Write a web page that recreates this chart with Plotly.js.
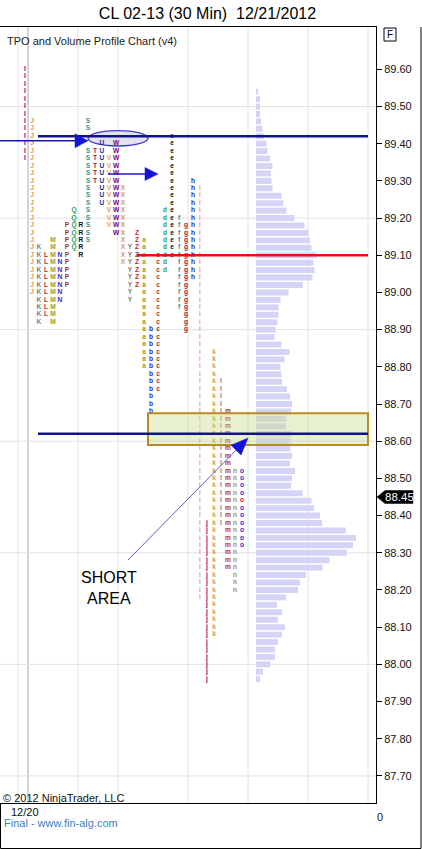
<!DOCTYPE html>
<html><head><meta charset="utf-8">
<script src="https://cdn.plot.ly/plotly-3.0.1.min.js"></script>
<style>html,body{margin:0;padding:0;background:#fff;}#chart{width:422px;height:849px;}</style>
</head><body><div id="chart"></div><script>
// ---------- DATA ----------
// TPO periods (30 min letters) and the price range of each period
const tpoLetters = ['I','J','K','L','M','N','P','Q','R','S','T','U','V','W','X','Y','Z','a','b','c','d','e','f','g','h','i','j','k','l','m','n','o'];
const tpoLow  = [89.36,89.00,88.92,88.94,88.92,88.98,89.02,89.12,89.10,89.14,89.30,89.24,89.18,89.16,89.08,88.98,89.02,88.80,88.68,88.74,89.06,89.10,88.96,88.90,89.04,88.18,87.96,88.08,88.38,88.26,88.20,88.32];
const tpoHigh = [89.60,89.46,89.12,89.10,89.14,89.10,89.18,89.22,89.18,89.46,89.38,89.40,89.36,89.40,89.28,89.12,89.16,89.14,88.90,89.10,89.22,89.42,89.20,89.18,89.30,89.28,88.38,88.84,88.76,88.68,88.52,88.52];
// rows not printed (hidden behind the ellipse)
const gapLetter = ['S'];
const gapLow  = [89.40];
const gapHigh = [89.42];
const tpoTick = 0.02;
// close print
const closeLetter = 'o';
const closeRow = 88.44;
const closePrice = 88.45;

// Volume profile (top price level, then one value per 0.02 level going down)
const volTopPrice = 89.54;
const volValues = [2,4,4,4,5,6.5,7.5,10.5,11.5,14,16.5,15,15.5,16.5,25.5,27.5,30.5,38.5,48.5,52.5,54,55.5,60.5,57.5,58.5,56.5,46.5,32.5,24.5,22.5,22.5,21.5,19.5,18.5,25.5,33.5,28.5,24.5,25.5,
  26,31,34,36,35,30.5,30,35,34.5,34.5,36,34,39,36,35,46.5,55.5,58,64,66,90,100,97,91,73.5,66.5,50,44,42,30,21,26,22,29,26,22,19,19,14,7,4];

// Price axis tick labels
const priceTicks = ['89.60','89.50','89.40','89.30','89.20','89.10','89.00','88.90','88.80','88.70','88.60','88.50','88.40','88.30','88.20','88.10','88.00','87.90','87.80','87.70'];
const gridPrices = [89.50,89.20,88.90,88.60,88.30,88.00,87.70];

// Drawn levels
const blueLevels = [89.42, 88.62];
const redLevel = 89.10;
const boxLow = 88.59, boxHigh = 88.675;

// ---------- LAYOUT HELPERS ----------
const W=422, H=849, PL=0, PR=376, PT=27, PB=803;
const refPrice=89.60, refPx=69.3, pxPerPoint=371.9;
const pxToPrice = y => refPrice - (y - refPx)/pxPerPoint;
const priceToPx = p => refPx + (refPrice - p)*pxPerPoint;
const xp = x => (x - PL)/(PR - PL);
const yp = y => (PB - y)/(PB - PT);
const colX0 = 25, colStep = 7, volBase = 256;
const palette = ['#800080','#CF9A5A','#7C7C7C','#C62626','#A09A22','#2A2ACB','#A8302A','#2E9E4E','#111111','#2A9494','#A0183E','#1E2A8A','#F0A030'];

// ---------- TPO TEXT ----------
const tx=[], ty=[], tt=[], tc=[];
tpoLetters.forEach((L, i) => {
  const n = Math.round((tpoHigh[i]-tpoLow[i])/tpoTick);
  for (let k=0; k<=n; k++) {
    const p = +(tpoLow[i] + k*tpoTick).toFixed(2);
    let hidden = false;
    gapLetter.forEach((g, j) => { if (g===L && p>=gapLow[j]-1e-9 && p<=gapHigh[j]+1e-9) hidden = true; });
    if (hidden) continue;
    tx.push(colX0 + colStep*i); ty.push(p); tt.push(L);
    tc.push((L===closeLetter && Math.abs(p-closeRow)<1e-9) ? '#E0103A' : palette[i % palette.length]);
  }
});
const volPrices = volValues.map((v, k) => +(volTopPrice - k*tpoTick).toFixed(2));

const traces = [
  {type:'bar', orientation:'h', y:volPrices, x:volValues, base:volBase, width:0.016,
   marker:{color:'#D4D4F7', line:{width:0}}, hoverinfo:'skip', showlegend:false},
  {type:'scatter', mode:'text', x:tx, y:ty, text:tt, textposition:'middle center',
   textfont:{family:'Liberation Sans, Arial, sans-serif', size:6.6, weight:'bold', color:tc},
   hoverinfo:'skip', showlegend:false, cliponaxis:false}
];

// ---------- SHAPES ----------
const shapes = [];
gridPrices.forEach(p => shapes.push({type:'line', xref:'x', yref:'y', x0:PL, x1:PR, y0:p, y1:p, line:{color:'#E2E2E2', width:1}, layer:'below'}));
[18, 78, 118, 188, 248, 308, 368].forEach(x => shapes.push({type:'line', xref:'x', yref:'paper', x0:x, x1:x, y0:0, y1:1, line:{color:'#E2E2E2', width:1}, layer:'below'}));
shapes.push({type:'line', xref:'x', yref:'paper', x0:28, x1:28, y0:0, y1:1, line:{color:'#A8A8A8', width:1}, layer:'below'});
// ellipse
shapes.push({type:'circle', xref:'x', yref:'y', x0:88, x1:148, y0:pxToPrice(146), y1:pxToPrice(130.6),
  fillcolor:'#E3E3EE', line:{color:'#3A3AC8', width:1.3}, layer:'below'});
// box
shapes.push({type:'rect', xref:'x', yref:'y', x0:148, x1:368, y0:boxLow, y1:boxHigh,
  fillcolor:'rgba(200,222,140,0.42)', line:{color:'#B88A2A', width:2}, layer:'above'});
// blue & red levels
blueLevels.forEach(p => shapes.push({type:'line', xref:'x', yref:'y', x0:38, x1:368, y0:p, y1:p, line:{color:'#12128E', width:2.5}}));
shapes.push({type:'line', xref:'x', yref:'y', x0:137, x1:368, y0:redLevel, y1:redLevel, line:{color:'#E81010', width:2.5}});

function arrow(x0, y0, x1, y1, lineEnd, len, hw, lineColor, lineW, headColor) {
  const dx=x1-x0, dy=y1-y0, d=Math.hypot(dx,dy), ux=dx/d, uy=dy/d;
  const bx=x1-ux*len, by=y1-uy*len, nx=-uy, ny=ux;
  const ex = x0 + ux*(d-lineEnd), ey = y0 + uy*(d-lineEnd);
  shapes.push({type:'line', xref:'paper', yref:'paper', x0:xp(x0), y0:yp(y0), x1:xp(ex), y1:yp(ey), line:{color:lineColor, width:lineW}});
  const pts = [[x1,y1],[bx+nx*hw, by+ny*hw],[bx-nx*hw, by-ny*hw]];
  shapes.push({type:'path', xref:'paper', yref:'paper',
    path:'M'+pts.map(q => xp(q[0])+','+yp(q[1])).join(' L')+' Z',
    fillcolor:headColor, line:{color:headColor, width:0.5}});
}
arrow(0, 140.7, 88, 140.7, 12, 13, 7, '#1818A0', 1.5, '#1414D8');
arrow(108, 174, 158, 174, 12, 13, 6.5, '#1A1AB8', 1.5, '#1414D8');
arrow(128, 560, 248, 438, 14, 17, 7, '#5A5AD0', 1, '#1414D8');

// outer frame pieces
shapes.push({type:'path', xref:'paper', yref:'paper',
  path:`M${xp(0.5)},${yp(803)} L${xp(0.5)},${yp(848.5)} L${xp(421)},${yp(848.5)} L${xp(421)},${yp(27)}`,
  line:{color:'#000', width:1}});
// F box
shapes.push({type:'rect', xref:'paper', yref:'paper', x0:xp(384), x1:xp(396), y0:yp(41), y1:yp(28), line:{color:'#000', width:1}});
// close price flag
const cy = priceToPx(closePrice);
shapes.push({type:'path', xref:'paper', yref:'paper',
  path:`M${xp(377)},${yp(cy)} L${xp(385)},${yp(cy-6.5)} L${xp(413)},${yp(cy-6.5)} L${xp(413)},${yp(cy+6.5)} L${xp(385)},${yp(cy+6.5)} Z`,
  fillcolor:'#000', line:{color:'#000', width:0.5}});

// ---------- ANNOTATIONS ----------
const F = 'Liberation Sans, Arial, sans-serif';
const ann = (x, y, text, size, color, xanchor) => ({xref:'paper', yref:'paper', x:xp(x), y:yp(y), text, showarrow:false,
  xanchor:xanchor||'left', yanchor:'middle', font:{family:F, size, color}, borderpad:0});
const annotations = [
  ann(6, 40.5, 'TPO and Volume Profile Chart (v4)', 11, '#222'),
  ann(2, 797.5, '© 2012 NinjaTrader, LLC', 11, '#111'),
  ann(10, 812, '12/20', 11, '#111'),
  ann(2.5, 823.5, 'Final - www.fin-alg.com', 11, '#3D7EBE'),
  ann(375.5, 816.5, '0', 11, '#111'),
  ann(390, 34.8, 'F', 10, '#000', 'center'),
  ann(399.5, cy, closePrice.toFixed(2), 11.5, '#fff', 'center'),
  Object.assign(ann(108.5, 588, 'SHORT<br>AREA', 16, '#000', 'center'), {align:'center'})
];

const layout = {
  width:W, height:H, margin:{l:PL, r:W-PR, t:PT, b:H-PB, pad:0},
  paper_bgcolor:'#fff', plot_bgcolor:'#fff', showlegend:false, hovermode:false,
  title:{text:'CL 02-13 (30 Min)\u00A0 12/21/2012', font:{family:F, size:16, color:'#000'},
    x:207.5/W, xref:'container', xanchor:'center', y:1-13.5/H, yref:'container', yanchor:'middle'},
  xaxis:{range:[PL, PR], showgrid:false, zeroline:false, showticklabels:false, ticks:'',
    showline:true, mirror:true, linecolor:'#000', linewidth:1, fixedrange:true},
  yaxis:{range:[pxToPrice(PB), pxToPrice(PT)], side:'right', tickmode:'array',
    tickvals:priceTicks.map(Number), ticktext:priceTicks, ticks:'outside', ticklen:5, tickcolor:'#000',
    tickfont:{family:F, size:11, color:'#111'}, showgrid:false, zeroline:false,
    showline:true, mirror:true, linecolor:'#000', linewidth:1, fixedrange:true},
  shapes, annotations
};
Plotly.newPlot('chart', traces, layout, {staticPlot:true, displayModeBar:false});
</script></body></html>
